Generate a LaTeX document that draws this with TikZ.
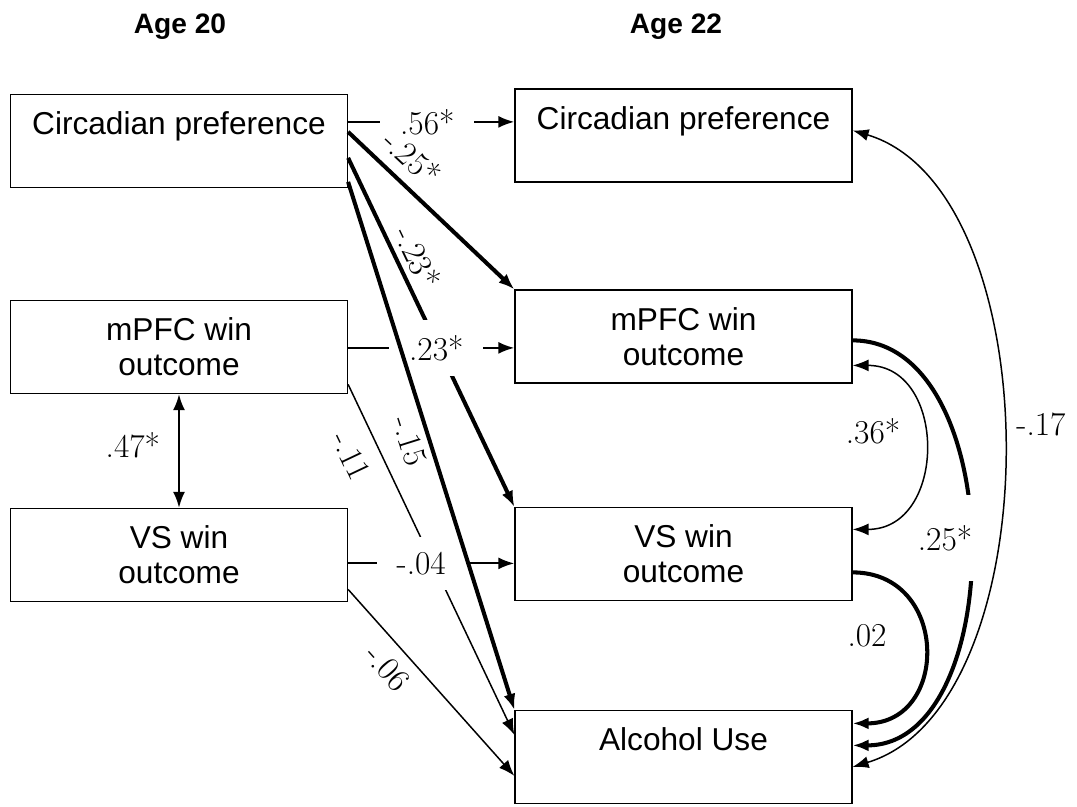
\documentclass[tikz,border=0pt]{standalone}
\usepackage{fontspec}
\usepackage{tikz}
\usetikzlibrary{calc,arrows.meta}
\newfontfamily\boxfont{Liberation Sans}

\begin{document}
\begin{tikzpicture}[x=0.2mm, y=-0.2mm,
    >={Latex[length=3.2mm,width=2.4mm]},
    box/.style={draw, line width=0.7pt, minimum width=67.4mm, minimum height=18.6mm,
        align=center, font=\boxfont\fontsize{18}{20}\selectfont},
    age/.style={font=\boxfont\bfseries\fontsize{16}{19}\selectfont},
    coef/.style={font=\fontsize{19}{22}\selectfont},
    gap/.style={coef, fill=white, inner xsep=4mm, inner ysep=3mm},
    thinline/.style={line width=0.85pt},
    midline/.style={line width=1.25pt},
    thickline/.style={line width=2.3pt}]
    \useasboundingbox (0,0) rectangle (1077,806);

    % Column headers
    \node[age] (h20) at (180,27) {Age 20};
    \node[age] (h22) at (676,27) {Age 22};

    % Age 20 boxes
    \node[box] (cpL) at (179,141) {Circadian preference\\ \mbox{}};
    \node[box] (mpL) at (179,347) {mPFC win\\outcome};
    \node[box] (vsL) at (179,555) {VS win\\outcome};

    % Age 22 boxes
    \node[box] (cpR) at (683.5,135.5) {Circadian preference\\ \mbox{}};
    \node[box] (mpR) at (683.5,336.5) {mPFC win\\outcome};
    \node[box] (vsR) at (683.5,554) {VS win\\outcome};
    \node[box] (auR) at (683.5,757) {Alcohol Use\\ \mbox{}};

    % Path start and end points
    \coordinate (cp56) at ($(cpL.north east)+(0,28)$);
    \coordinate (cp25) at ($(cpL.north east)+(0,38)$);
    \coordinate (cp23) at ($(cpL.north east)+(0,64)$);
    \coordinate (cp15) at ($(cpL.north east)+(0,88)$);
    \coordinate (mp23) at ($(mpL.north east)+(0,48)$);
    \coordinate (mp11) at ($(mpL.north east)+(0,84.5)$);
    \coordinate (vs04) at ($(vsL.north east)+(0,55.5)$);
    \coordinate (vs06) at ($(vsL.north east)+(0,81.5)$);
    \coordinate (au11) at ($(auR.north west)+(0,25)$);
    \coordinate (au06) at ($(auR.north west)+(0,66)$);

    % Cross-lagged paths
    \draw[midline, ->] (cp56) -- (cp56 -| cpR.west) node[gap, pos=.476] (l56) {.56*};
    \draw[thickline, ->] (cp25) -- (mpR.north west) node[coef, sloped, above=1mm, pos=.28] (l25a) {-.25*};
    \draw[thickline, ->] (cp23) -- (vsR.north west) node[coef, sloped, above, pos=.31] (l23a) {-.23*};
    \draw[thinline, ->] (mp11) -- (au11) node[coef, sloped, below=2mm, pos=.17] (l11) {-.11};
    \draw[midline, ->] (mp23) -- (mp23 -| mpR.west) node[gap, pos=.53] (l23) {.23*};
    \draw[midline, ->] (vs04) -- (vs04 -| vsR.west) node[gap, pos=.44] (l04) {-.04};
    \draw[thinline, ->] (vs06) -- (au06) node[coef, sloped, below=1mm, pos=.34] (l06) {-.06};
    \draw[thickline, ->] (cp15) -- (auR.north west) node[coef, sloped, below, pos=.48] (l15) {-.15};

    % Age 20 correlation
    \draw[midline, <->] (mpL.south) -- (vsL.north) node[coef, left=2.4mm, pos=.45] (l47) {.47*};

    % Age 22 correlations
    \coordinate (mp36) at ($(mpR.north east)+(0,76)$);
    \coordinate (vs36) at ($(vsR.north east)+(0,22.5)$);
    \coordinate (mp25) at ($(mpR.north east)+(0,51)$);
    \coordinate (vs02) at ($(vsR.north east)+(0,65.5)$);
    \coordinate (cp17) at ($(cpR.north east)+(0,42)$);
    \coordinate (au02) at ($(auR.north east)+(0,13.5)$);
    \coordinate (au25) at ($(auR.north east)+(0,35.5)$);
    \coordinate (au17) at ($(auR.north east)+(0,57)$);

    \draw[thickline, ->] (mp25) .. controls +(157,0) and +(157,0) .. (au25);
    \node[coef, fill=white, inner xsep=1mm, inner ysep=6mm] (l25) at (945,538) {.25*};
    \draw[thinline, <->] (mp36) .. controls +(95,0) and +(95,0) .. (vs36);
    \node[coef] (l36) at (873,431) {.36*};
    \draw[thickline, ->] (vs02) .. controls +(97,0) and +(97,0) .. (au02);
    \node[coef] (l02) at (867,636) {.02};
    \draw[thinline, <->] (cp17) .. controls +(200,60) and +(200,-60) .. (au17);
    \node[coef] (l17) at (1041,424) {-.17};
\end{tikzpicture}
\end{document}
